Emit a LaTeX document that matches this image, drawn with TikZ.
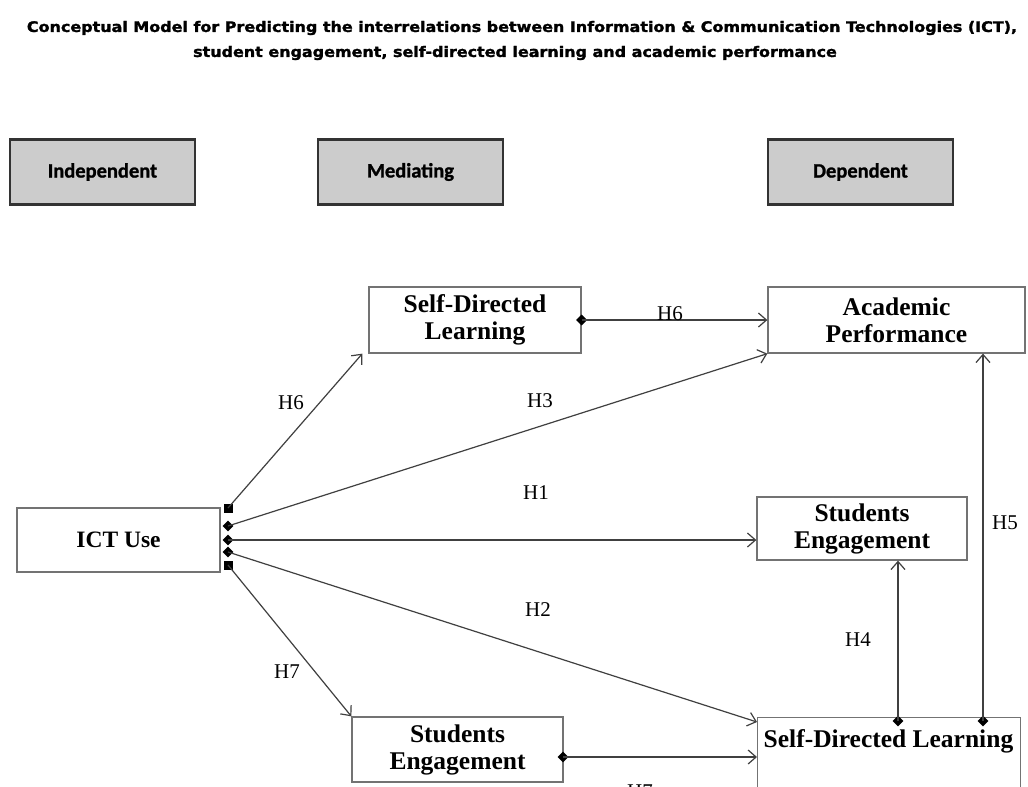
\documentclass[tikz,border=0pt]{standalone}
\usepackage{fontspec}
\setmainfont{Liberation Serif}
\newfontfamily\titlefont{DejaVu Sans}[BoldFeatures={FakeBold=1.6}]
\newfontfamily\headfont{Carlito}[BoldFeatures={FakeBold=1.2}]
\usetikzlibrary{arrows.meta,shapes.geometric,calc}
\begin{document}
\begin{tikzpicture}[x=1pt,y=-1pt,
  hdr/.style={draw=black!80,line width=2.6pt,fill=black!20,inner sep=0pt,
    minimum width=185pt,minimum height=65pt,font=\headfont\bfseries\fontsize{20.5}{22}\selectfont},
  varbox/.style={draw=black!55,line width=1.3pt,fill=white,inner sep=0pt,align=center,
    font=\bfseries\fontsize{25.5}{27}\selectfont},
  ttl/.style={font=\titlefont\bfseries\fontsize{14.5}{16}\selectfont,inner sep=0pt},
  lbl/.style={font=\fontsize{21}{23}\selectfont,inner sep=0pt},
  conn/.style={draw=black!75,line width=1.2pt,-{Straight Barb[length=8pt,width=14pt,line width=1.2pt]}},
  dmark/.style={diamond,fill=black,inner sep=0pt,minimum size=11pt},
  smark/.style={rectangle,fill=black,inner sep=0pt,minimum size=9pt}]
\useasboundingbox (0,0) rectangle (1028,787);
\fill[white] (0,0) rectangle (1028,787);
% title
\node[ttl] (t1) at (522,28)
  {\scalebox{1.1}[1]{Conceptual Model for Predicting the interrelations between Information \& Communication Technologies (ICT),}};
\node[ttl] (t2) at (515,53)
  {\scalebox{1.1}[1]{student engagement, self-directed learning and academic performance}};
% headers
\node[hdr] (ind) at (102.5,172) {Independent};
\node[hdr] (med) at (410.5,172) {Mediating};
\node[hdr] (dep) at (860.5,172) {Dependent};
% variable boxes
\node[varbox,minimum width=212pt,minimum height=66pt] (sdla) at (475,320) {Self-Directed\\Learning};
\node[varbox,minimum width=257pt,minimum height=66pt] (acad) at (896.5,320) {Academic\\Performance};
\node[varbox,minimum width=203pt,minimum height=64pt,font=\bfseries\fontsize{23.5}{27}\selectfont] (ict) at (118.5,540) {ICT Use};
\node[varbox,minimum width=210pt,minimum height=63pt] (sea) at (862,528.5) {Students\\Engagement};
\node[varbox,minimum width=211pt,minimum height=65pt] (seb) at (457.5,749.5) {Students\\Engagement};
\node[varbox,minimum width=263pt,minimum height=90pt,anchor=north west] (sdlb) at (757,717) {};
\node[font=\bfseries\fontsize{25.5}{27}\selectfont,inner sep=0pt] (sdlbt) at (888.5,741) {Self-Directed Learning};
% markers on ICT Use
\node[smark] (m1) at (228,508) {};
\node[dmark] (m2) at (228,526) {};
\node[dmark] (m3) at (228,540) {};
\node[dmark] (m4) at (228,552) {};
\node[smark] (m5) at (228,565) {};
% other markers
\node[dmark] (m6) at (sdla.east) {};
\node[dmark] (m7) at (563,757) {};
\node[dmark] (m8) at (898,721) {};
\node[dmark] (m9) at (983,721) {};
% target coordinates
\coordinate (tH6) at ($(sdla.south west)+(-6,0)$);
\coordinate (tH1) at (sea.west |- m3);
\coordinate (tH2) at (757,722);
\coordinate (tH7b) at (sdlb.west |- m7);
\coordinate (tH4) at (m8 |- sea.south);
\coordinate (tH5) at (m9 |- acad.south);
% connectors
\draw[conn] (m1.center) -- (tH6);
\draw[conn] (m2.center) -- (acad.south west);
\draw[conn] (m3.center) -- (tH1);
\draw[conn] (m4.center) -- (tH2);
\draw[conn] (m5.center) -- (seb.north west);
\draw[conn] (m6.center) -- (acad.west |- m6);
\draw[conn] (m7.center) -- (tH7b);
\draw[conn] (m8.center) -- (tH4);
\draw[conn] (m9.center) -- (tH5);
% labels
\node[lbl] (l1) at (291,403) {H6};
\node[lbl] (l2) at (540,401) {H3};
\node[lbl] (l3) at (536,493) {H1};
\node[lbl] (l4) at (538,610) {H2};
\node[lbl] (l5) at (287,672) {H7};
\node[lbl] (l6) at (670,314) {H6};
\node[lbl] (l7) at (858,640) {H4};
\node[lbl] (l8) at (1005,523) {H5};
\node[lbl] (l9) at (640,792) {H7};
\end{tikzpicture}
\end{document}
